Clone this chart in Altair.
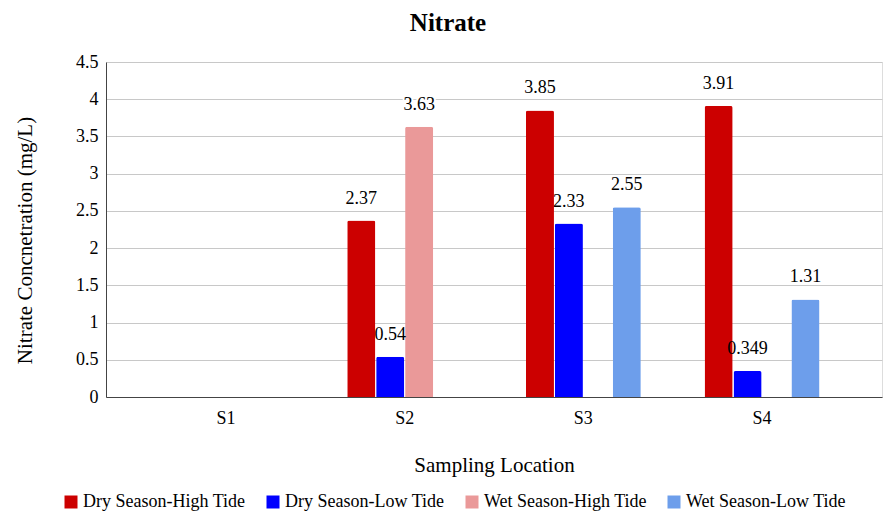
import altair as alt
import pandas as pd

locations = ["S1", "S2", "S3", "S4"]
series = ["Dry Season-High Tide", "Dry Season-Low Tide", "Wet Season-High Tide", "Wet Season-Low Tide"]
colors = ["#cc0000", "#0000ff", "#ea9999", "#6d9eeb"]
dry_high = [None, 2.37, 3.85, 3.91]
dry_low = [None, 0.54, 2.33, 0.349]
wet_high = [None, 3.63, None, None]
wet_low = [None, None, 2.55, 1.31]
y_ticks = [0, 0.5, 1, 1.5, 2, 2.5, 3, 3.5, 4, 4.5]

rows = []
for s, vals in zip(series, [dry_high, dry_low, wet_high, wet_low]):
    for loc, v in zip(locations, vals):
        if v is not None:
            rows.append({"loc": loc, "series": s, "value": v, "label": str(v)})
df = pd.DataFrame(rows)

FONT = "Times New Roman, Liberation Serif, serif"

x_enc = alt.X("loc:N", scale=alt.Scale(domain=locations, paddingInner=0.357, paddingOuter=0.35),
              axis=alt.Axis(title="Sampling Location", labelAngle=0, labelFontSize=18, labelPadding=12,
                            titleFontSize=21, titleFontWeight="normal", titleY=68, titleBaseline="middle",
                            ticks=False, domainColor="#444444", grid=False, labelFont=FONT, titleFont=FONT,
                            labelColor="#000000", titleColor="#000000"))
xo_enc = alt.XOffset("series:N", scale=alt.Scale(domain=series, paddingInner=0.03))
y_enc = alt.Y("value:Q", scale=alt.Scale(domain=[0, 4.5], nice=False),
              axis=alt.Axis(title="Nitrate Concnetration (mg/L)", values=y_ticks, format="~g",
                            labelFontSize=18, labelPadding=8, ticks=False, grid=True, gridColor="#c8c8c8",
                            domainColor="#444444", titleFontSize=21, titleFontWeight="normal",
                            titleAngle=-90, titleX=-81, titleY=178, titleAlign="center",
                            titleBaseline="middle", labelFont=FONT, titleFont=FONT,
                            labelColor="#000000", titleColor="#000000"))

base = alt.Chart(df).encode(x=x_enc, xOffset=xo_enc, y=y_enc)

halo = base.mark_text(font=FONT, fontSize=18, baseline="alphabetic", dy=-17,
                      fill="white", stroke="white", strokeWidth=4).encode(text="label:N")

bars = base.mark_bar(cornerRadiusTopLeft=2, cornerRadiusTopRight=2).encode(
    color=alt.Color("series:N", scale=alt.Scale(domain=series, range=colors),
                    legend=alt.Legend(title=None, orient="none", direction="horizontal",
                                      legendX=-44, legendY=431, symbolType="square", symbolSize=169,
                                      symbolStrokeWidth=0, labelFont=FONT, labelFontSize=18,
                                      labelOffset=3, columnPadding=18, labelColor="#000000",
                                      labelLimit=300))
)

text = base.mark_text(font=FONT, fontSize=18, baseline="alphabetic", dy=-17, color="#000000").encode(
    text="label:N")

chart = alt.layer(halo, bars, text).properties(
    width=776, height=335,
    title=alt.TitleParams("Nitrate", font=FONT, fontSize=25, fontWeight="bold", anchor="middle",
                          dx=-46, offset=17, color="#000000"),
    autosize=alt.AutoSizeParams(type="none"),
    padding={"left": 106, "top": 62, "right": 1, "bottom": 115},
).configure_view(stroke=None).configure(background="white")

chart.save("out.html", embed_options={"renderer": "svg", "actions": False})
